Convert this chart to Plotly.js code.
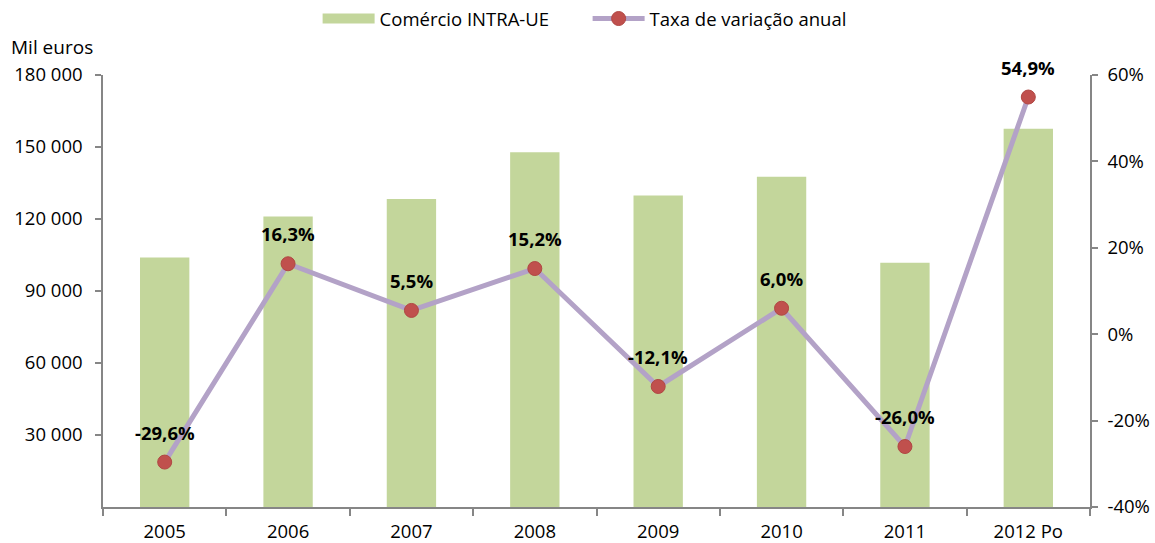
<!DOCTYPE html>
<html>
<head>
<meta charset="utf-8">
<script src="https://cdn.plot.ly/plotly-3.0.1.min.js"></script>
<style>html,body{margin:0;padding:0;background:#fff;}#chart{width:1155px;height:543px;}</style>
</head>
<body>
<div id="chart"></div>
<script>
var years = ["2005", "2006", "2007", "2008", "2009", "2010", "2011", "2012 Po"];
var comercio = [104000, 121000, 128300, 147800, 129800, 137600, 101800, 157600];
var taxa = [-29.6, 16.3, 5.5, 15.2, -12.1, 6.0, -26.0, 54.9];
var leftTicks = [30000, 60000, 90000, 120000, 150000, 180000];
var leftTickText = ["30 000", "60 000", "90 000", "120 000", "150 000", "180 000"];
var rightTicks = [-40, -20, 0, 20, 40, 60];
var rightTickText = ["-40%", "-20%", "0%", "20%", "40%", "60%"];

var fontFam = "'Open Sans', 'Noto Sans', sans-serif";
var labels = taxa.map(function(v){ return '<b>' + v.toFixed(1).replace('.', ',') + '%</b>'; });

var traces = [
  {
    type: 'bar', name: 'Comércio INTRA-UE', x: years, y: comercio,
    marker: {color: '#C3D69B'}, width: 0.4, hoverinfo: 'x+y', showlegend: false
  },
  {
    type: 'scatter', mode: 'lines', name: 'Comércio INTRA-UE',
    x: [years[0]], y: [null], line: {color: '#C3D69B', width: 12}, hoverinfo: 'skip', showlegend: true
  },
  {
    type: 'scatter', mode: 'lines+markers', name: 'Taxa de variação anual',
    x: years, y: taxa, yaxis: 'y2',
    line: {color: '#B3A2C7', width: 5},
    marker: {color: '#C0504D', size: 14, line: {color: '#B04743', width: 1}},
    cliponaxis: false
  }
];

var annotations = [
  {text: 'Mil euros', xref: 'paper', yref: 'paper', x: -0.095, y: 1.0, xanchor: 'left', yanchor: 'bottom',
   yshift: 13, showarrow: false, font: {family: fontFam, size: 19}}
];
years.forEach(function(yr, i){
  annotations.push({
    text: labels[i], x: i, y: taxa[i], xref: 'x', yref: 'y2',
    showarrow: false, yshift: 30, xanchor: 'center', yanchor: 'middle',
    font: {family: fontFam, size: 18.5, color: '#000'}
  });
});

var layout = {
  width: 1155, height: 543,
  margin: {l: 103, r: 65, t: 75, b: 36},
  paper_bgcolor: '#fff', plot_bgcolor: '#fff',
  font: {family: fontFam, size: 18, color: '#000'},
  showlegend: true,
  legend: {orientation: 'h', x: 0.491, xanchor: 'center', y: 1.0, yanchor: 'top', yref: 'container',
           font: {family: fontFam, size: 18.5}, traceorder: 'normal', itemwidth: 52,
           entrywidth: 203, entrywidthmode: 'pixels'},
  xaxis: {
    type: 'category', categoryarray: years, categoryorder: 'array',
    showline: true, linecolor: '#868686', linewidth: 1.5,
    ticks: 'outside', tickson: 'boundaries', ticklen: 7, tickcolor: '#868686', tickwidth: 1.5,
    showgrid: false, tickfont: {size: 18.5}, tickangle: 0, fixedrange: true, ticklabelstandoff: 7
  },
  yaxis: {
    range: [0, 180000], tickvals: leftTicks, ticktext: leftTickText,
    showline: true, linecolor: '#868686', linewidth: 1.5,
    ticks: 'outside', ticklen: 6, tickcolor: '#868686', tickwidth: 1.5,
    showgrid: false, zeroline: false, tickfont: {size: 18.5}, ticklabelstandoff: 9
  },
  yaxis2: {
    overlaying: 'y', side: 'right', range: [-40, 60], tickvals: rightTicks, ticktext: rightTickText,
    showline: true, linecolor: '#868686', linewidth: 1.5,
    ticks: 'outside', ticklen: 6, tickcolor: '#868686', tickwidth: 1.5,
    showgrid: false, zeroline: false, tickfont: {size: 18.5}, ticklabelstandoff: 6
  },
  annotations: annotations
};

Plotly.newPlot('chart', traces, layout, {displayModeBar: false});
</script>
</body>
</html>
